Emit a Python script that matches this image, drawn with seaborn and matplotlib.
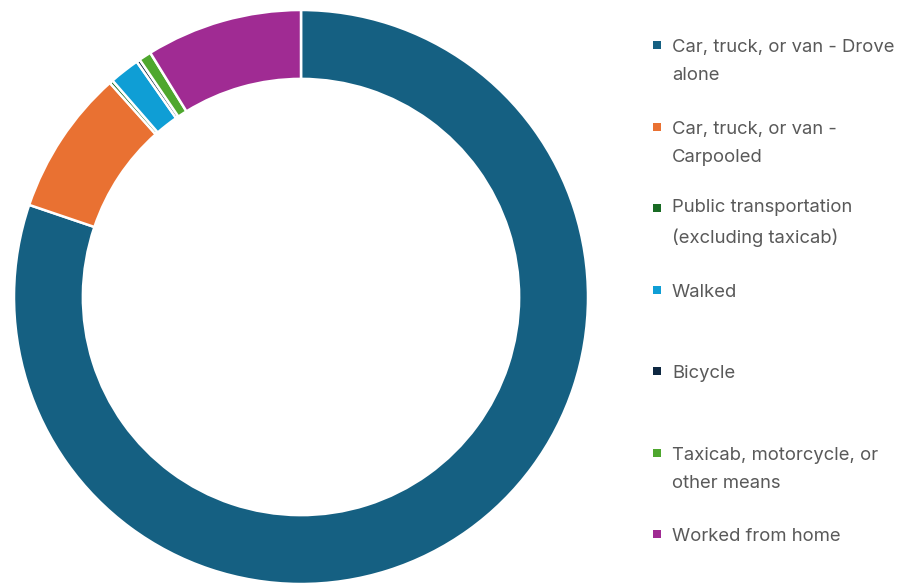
import matplotlib
matplotlib.use("Agg")
import matplotlib.pyplot as plt
import matplotlib.patches as mpatches
import seaborn as sns

# Means of transportation to work (share of workers, %)
categories = [
    "Car, truck, or van - Drove alone",
    "Car, truck, or van - Carpooled",
    "Public transportation (excluding taxicab)",
    "Walked",
    "Bicycle",
    "Taxicab, motorcycle, or other means",
    "Worked from home",
]
legend_labels = [
    "Car, truck, or van - Drove\nalone",
    "Car, truck, or van -\nCarpooled",
    "Public transportation\n(excluding taxicab)",
    "Walked",
    "Bicycle",
    "Taxicab, motorcycle, or\nother means",
    "Worked from home",
]
shares = [80.2, 8.2, 0.2, 1.7, 0.2, 0.7, 8.8]
colors = ["#156082", "#E97132", "#196B24", "#0F9ED5", "#0E2841", "#4EA72E", "#A02B93"]

sns.set_theme(style="white")
plt.rcParams["font.family"] = ["Inter", "DejaVu Sans"]
palette = sns.color_palette(colors)

W, H = 900, 584
fig = plt.figure(figsize=(W / 100, H / 100), dpi=100)

# Donut
cx, cy, r = 301, 297, 287
ax = fig.add_axes([(cx - r) / W, (H - cy - r) / H, 2 * r / W, 2 * r / H])
ax.pie(
    shares,
    colors=palette,
    startangle=90,
    counterclock=False,
    radius=1.0,
    wedgeprops=dict(width=0.24, edgecolor="white", linewidth=1.8),
)
ax.set_xlim(-1, 1)
ax.set_ylim(-1, 1)
ax.set_aspect("equal")
ax.axis("off")

# Legend on the right; the marker sits beside the first line of each label
text_color = "#595959"
entry_y = [45, 127, 208, 290, 371, 453, 534]
marker_x, text_x, sq = 657, 672, 8
line_step = 28
for label, col, y in zip(legend_labels, palette, entry_y):
    fig.patches.append(
        mpatches.Rectangle(
            ((marker_x - sq / 2) / W, (H - y - sq / 2) / H),
            sq / W,
            sq / H,
            transform=fig.transFigure,
            facecolor=col,
            edgecolor="none",
        )
    )
    n_lines = label.count("\n") + 1
    last_baseline = y + 7 + (n_lines - 1) * line_step
    fig.text(
        text_x / W,
        (H - last_baseline) / H,
        label,
        ha="left",
        va="baseline",
        fontsize=13.3,
        color=text_color,
        linespacing=1.87,
    )

fig.savefig("out.png", dpi=100, facecolor="white")
